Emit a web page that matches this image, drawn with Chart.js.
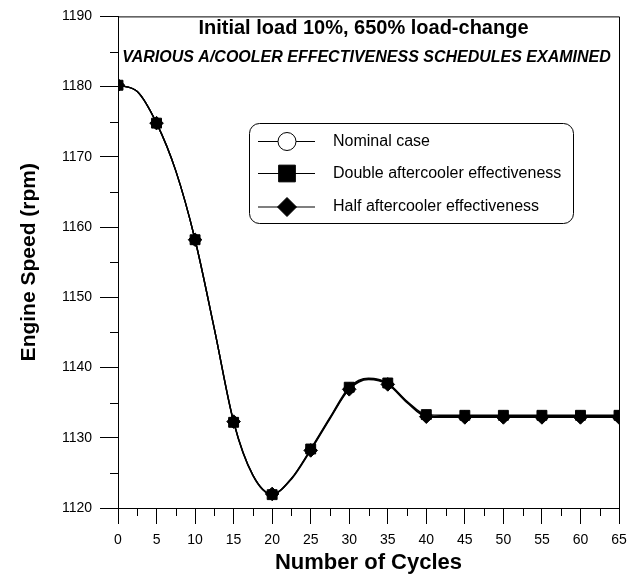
<!DOCTYPE html>
<html>
<head>
<meta charset="utf-8">
<script src="https://cdn.jsdelivr.net/npm/chart.js@4/dist/chart.umd.min.js"></script>
<style>
  html, body { margin: 0; padding: 0; background: #fff; }
  #wrap { width: 637px; height: 576px; }
</style>
</head>
<body>
<div id="wrap"><canvas id="chart" width="637" height="576"></canvas></div>
<script>
// values (every 2.5 cycles, markers every 5)
const cycles = [0, 2.5, 5, 7.5, 10, 12.5, 15, 17.5, 20, 22.5, 25, 27.5, 30, 32.5, 35, 37.5, 40,
  42.5, 45, 47.5, 50, 52.5, 55, 57.5, 60, 62.5, 65];
const nominal = [1180.2, 1179.3, 1174.8, 1168.0, 1158.2, 1145.5, 1132.3, 1124.7, 1122.0, 1124.2, 1128.3, 1132.8,
  1137.0, 1138.4, 1137.7, 1135.1, 1133.1, 1133.0, 1133.0, 1133.0, 1133.0, 1133.0, 1133.0, 1133.0, 1133.0, 1133.0, 1133.0];
const doubleEff = [1180.2, 1179.3, 1174.8, 1168.0, 1158.2, 1145.5, 1132.2, 1124.6, 1121.9, 1124.2, 1128.4, 1132.9,
  1137.2, 1138.5, 1137.8, 1135.2, 1133.3, 1133.2, 1133.2, 1133.2, 1133.2, 1133.2, 1133.2, 1133.2, 1133.2, 1133.2, 1133.2];
const halfEff = [1180.2, 1179.3, 1174.8, 1168.0, 1158.2, 1145.5, 1132.3, 1124.7, 1122.0, 1124.1, 1128.2, 1132.7,
  1136.9, 1138.3, 1137.6, 1135.0, 1133.0, 1132.9, 1132.9, 1132.9, 1132.9, 1132.9, 1132.9, 1132.9, 1132.9, 1132.9, 1132.9];

const xTicks = [0, 5, 10, 15, 20, 25, 30, 35, 40, 45, 50, 55, 60, 65];
const yTicks = [1120, 1130, 1140, 1150, 1160, 1170, 1180, 1190];
const xMinor = [2.5, 7.5, 12.5, 17.5, 22.5, 27.5, 32.5, 37.5, 42.5, 47.5, 52.5, 57.5, 62.5];
const yMinor = [1125, 1135, 1145, 1155, 1165, 1175, 1185];

const seriesNames = ["Nominal case", "Double aftercooler effectiveness", "Half aftercooler effectiveness"];
const titleText = "Initial load 10%, 650% load-change";
const subtitleText = "VARIOUS A/COOLER EFFECTIVENESS SCHEDULES EXAMINED";

const FONT = "'Liberation Sans', Arial, Helvetica, sans-serif";

function toPoints(vals) {
  return cycles.map((c, i) => ({ x: c, y: vals[i] }));
}

function markerRadius(r) {
  return (ctx) => (ctx.raw && ctx.raw.x % 5 === 0 ? r : 0);
}

function lineSet(label, vals, style, radius, fill) {
  return {
    label: label,
    data: toPoints(vals),
    borderColor: "#000",
    borderWidth: 1.4,
    pointStyle: style,
    pointRadius: markerRadius(radius),
    pointHoverRadius: markerRadius(radius),
    pointBackgroundColor: fill,
    pointBorderColor: "#000",
    pointBorderWidth: 1,
    cubicInterpolationMode: "monotone",
    fill: false
  };
}

// dataset 0 is drawn on top
const datasets = [
  lineSet(seriesNames[2], halfEff, "rectRot", 6.8, "#000"),
  lineSet(seriesNames[1], doubleEff, "rect", 7, "#000"),
  lineSet(seriesNames[0], nominal, "circle", 5, "#fff")
];

const legendItems = [
  { text: seriesNames[0], style: "circle", radius: 9, fill: "#fff" },
  { text: seriesNames[1], style: "rect", radius: 11.8, fill: "#000" },
  { text: seriesNames[2], style: "rectRot", radius: 9.5, fill: "#000" }
];

const extras = {
  id: "extras",
  afterDraw(chart) {
    const ctx = chart.ctx;
    const area = chart.chartArea;
    const xs = chart.scales.x, ys = chart.scales.y;
    ctx.save();
    ctx.strokeStyle = "#000";
    ctx.lineWidth = 1;

    // frame top + right
    ctx.beginPath();
    ctx.moveTo(area.left, area.top + 0.5);
    ctx.lineTo(area.right + 0.5, area.top + 0.5);
    ctx.lineTo(area.right + 0.5, area.bottom);
    ctx.stroke();

    // minor ticks
    ctx.beginPath();
    xMinor.forEach((v) => {
      const px = Math.round(xs.getPixelForValue(v)) + 0.5;
      ctx.moveTo(px, area.bottom);
      ctx.lineTo(px, area.bottom + 8);
    });
    yMinor.forEach((v) => {
      const py = Math.round(ys.getPixelForValue(v)) + 0.5;
      ctx.moveTo(area.left, py);
      ctx.lineTo(area.left - 8, py);
    });
    ctx.stroke();

    // titles inside the plot
    const cx = (area.left + area.right) / 2;
    ctx.fillStyle = "#000";
    ctx.textAlign = "center";
    ctx.textBaseline = "middle";
    ctx.font = "bold 20px " + FONT;
    ctx.fillText(titleText, cx - 5, 28);
    ctx.font = "italic bold 16px " + FONT;
    ctx.fillText(subtitleText, cx - 2, 58);

    // legend box
    const bx = 249.5, by = 123.5, bw = 324, bh = 100;
    ctx.beginPath();
    ctx.roundRect(bx, by, bw, bh, 10);
    ctx.fillStyle = "#fff";
    ctx.fill();
    ctx.stroke();

    const rows = [141.5, 173.5, 207];
    legendItems.forEach((it, i) => {
      const y = rows[i];
      ctx.beginPath();
      ctx.lineWidth = 1.2;
      ctx.moveTo(258, y);
      ctx.lineTo(315, y);
      ctx.stroke();
      ctx.fillStyle = it.fill;
      ctx.lineWidth = 1;
      Chart.helpers.drawPoint(ctx, { pointStyle: it.style, radius: it.radius, borderWidth: 1 }, 287, y);
      ctx.fillStyle = "#000";
      ctx.textAlign = "left";
      ctx.font = "16px " + FONT;
      ctx.fillText(it.text, 333, y);
    });
    ctx.restore();
  }
};

new Chart(document.getElementById("chart"), {
  type: "line",
  data: { datasets: datasets },
  plugins: [extras],
  options: {
    responsive: false,
    animation: false,
    events: [],
    layout: { padding: { top: 12, right: 18, left: 0, bottom: 0 } },
    plugins: { legend: { display: false }, tooltip: { enabled: false } },
    scales: {
      x: {
        type: "linear",
        min: 0,
        max: 65,
        afterBuildTicks: (s) => { s.ticks = xTicks.map((v) => ({ value: v })); },
        afterFit: (s) => { s.height = 68; },
        ticks: { color: "#000", font: { family: FONT, size: 14 }, padding: 8, maxRotation: 0,
          callback: (v) => String(v) },
        grid: { drawOnChartArea: false, drawTicks: true, tickLength: 16, color: "#000" },
        border: { display: true, color: "#000", width: 1 },
        title: {
          display: true,
          text: "Number of Cycles",
          color: "#000",
          font: { family: FONT, size: 22, weight: "bold" },
          padding: { top: 0, bottom: 0 }
        }
      },
      y: {
        min: 1120,
        max: 1190,
        afterBuildTicks: (s) => { s.ticks = yTicks.map((v) => ({ value: v })); },
        afterFit: (s) => { s.width = 118; },
        ticks: { color: "#000", font: { family: FONT, size: 14 }, padding: 8,
          callback: (v) => String(v) },
        grid: { drawOnChartArea: false, drawTicks: true, tickLength: 18, color: "#000" },
        border: { display: true, color: "#000", width: 1 },
        title: {
          display: true,
          text: "Engine Speed (rpm)",
          color: "#000",
          font: { family: FONT, size: 21, weight: "bold" },
          padding: { top: 17, bottom: 0 }
        }
      }
    }
  }
});
</script>
</body>
</html>
